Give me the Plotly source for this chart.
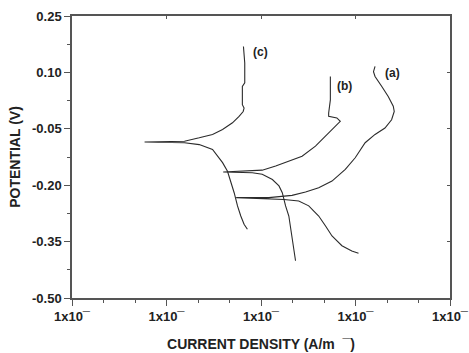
import math
import plotly.graph_objects as go

# Potentiodynamic polarization curves: current density (A/m^2) vs potential (V)
# Each curve runs from the cathodic end, through the corrosion potential, up the anodic branch.
curve_a_current = [1.076, 0.914, 0.718, 0.564, 0.480, 0.408, 0.320, 0.251, 0.175, 0.121, 0.0546,
                   0.121, 0.168, 0.213, 0.296, 0.408, 0.564, 0.780, 0.993, 1.265, 1.61, 2.05,
                   2.41, 2.57, 2.51, 2.22, 1.89, 1.61, 1.55, 1.61]
curve_a_potential = [-0.381, -0.375, -0.361, -0.335, -0.308, -0.282, -0.255, -0.242, -0.238, -0.236, -0.233,
                     -0.233, -0.229, -0.227, -0.218, -0.207, -0.189, -0.158, -0.127, -0.087, -0.065, -0.048,
                     -0.026, -0.004, 0.010, 0.036, 0.063, 0.089, 0.102, 0.116]

curve_b_current = [0.232, 0.222, 0.206, 0.197, 0.182, 0.175, 0.168, 0.155, 0.132, 0.103, 0.0809, 0.0398,
                   0.0586, 0.103, 0.143, 0.197, 0.272, 0.377, 0.520, 0.631, 0.690, 0.635, 0.520, 0.520,
                   0.542, 0.542]
curve_b_potential = [-0.401, -0.370, -0.326, -0.282, -0.255, -0.238, -0.220, -0.202, -0.185, -0.171, -0.167, -0.165,
                     -0.163, -0.160, -0.149, -0.136, -0.123, -0.096, -0.061, -0.040, -0.030, -0.021, -0.017, -0.008,
                     0.027, 0.089]

curve_c_current = [0.0718, 0.0662, 0.0611, 0.0564, 0.0520, 0.0480, 0.0442, 0.0392, 0.0307, 0.0222, 0.0155,
                   0.00586, 0.0155, 0.0222, 0.0307, 0.0392, 0.0499, 0.0586, 0.0648, 0.0662, 0.0635, 0.0635,
                   0.0673, 0.0673, 0.0652]
curve_c_potential = [-0.317, -0.304, -0.282, -0.255, -0.220, -0.193, -0.163, -0.140, -0.105, -0.092, -0.087,
                     -0.085, -0.083, -0.074, -0.065, -0.052, -0.034, -0.017, -0.004, 0.005, 0.014, 0.063,
                     0.072, 0.125, 0.169]

curve_labels = ["(a)", "(b)", "(c)"]
label_current = [1.97, 0.611, 0.0785]
label_potential = [0.099, 0.063, 0.155]

x_decades = [1e-3, 1e-2, 1e-1, 1e0, 1e1]
x_tick_text = ["1x10\u00af"] * 5
y_ticks = [0.25, 0.10, -0.05, -0.20, -0.35, -0.50]
y_tick_text = ["0.25", "0.10", "-0.05", "-0.20", "-0.35", "-0.50"]
y_minor = [0.175, 0.025, -0.125, -0.275, -0.425]

FONT = "Liberation Sans, Arial, sans-serif"
LINE = "#2b2b2b"
AXIS = "#555555"
TEXT = "#222222"

fig = go.Figure()
for cur, pot in [(curve_a_current, curve_a_potential),
                 (curve_b_current, curve_b_potential),
                 (curve_c_current, curve_c_potential)]:
    fig.add_trace(go.Scatter(x=cur, y=pot, mode="lines",
                             line=dict(color=LINE, width=1.1), showlegend=False,
                             hoverinfo="skip"))

# annotation x positions on a log axis are given as log10 of the value
for txt, xv, yv in zip(curve_labels, label_current, label_potential):
    fig.add_annotation(x=math.log10(xv), y=yv, xref="x", yref="y", text=txt,
                       showarrow=False, xanchor="left", yanchor="middle",
                       font=dict(family=FONT, size=12, color=TEXT, weight="bold"))

# minor ticks at thirds of each decade
x_minor = []
for d in x_decades[:-1]:
    x_minor += [d * 10 ** (1 / 3), d * 10 ** (2 / 3)]

xrange = [-3, 1]
yrange = [-0.50, 0.25]

common_x = dict(type="log", range=xrange, showgrid=False, zeroline=False, automargin=False)
common_y = dict(range=yrange, showgrid=False, zeroline=False, automargin=False)
tick_font = dict(family=FONT, size=13, color=TEXT, weight="bold")
title_font = dict(family=FONT, size=14, color=TEXT, weight="bold")

fig.update_layout(
    width=469, height=353,
    margin=dict(l=72, r=19, t=16, b=55),
    paper_bgcolor="white", plot_bgcolor="white",
    font=dict(family=FONT, color=TEXT),
    xaxis=dict(**common_x,
               tickmode="array", tickvals=x_decades, ticktext=x_tick_text,
               ticks="outside", ticklen=6, tickwidth=1.2, tickcolor=AXIS,
               showline=True, linecolor=AXIS, linewidth=1.5,
               tickfont=tick_font,
               minor=dict(tickvals=x_minor, ticks="outside", ticklen=3,
                          tickcolor=AXIS, tickwidth=1),
               title=dict(text="CURRENT DENSITY (A/m  \u00af)",
                          font=title_font, standoff=16)),
    yaxis=dict(**common_y,
               tickmode="array", tickvals=y_ticks, ticktext=y_tick_text,
               ticks="outside", ticklen=6, tickwidth=1.2, tickcolor=AXIS,
               showline=True, linecolor=AXIS, linewidth=1.5,
               tickfont=tick_font,
               minor=dict(tickvals=y_minor, ticks="outside", ticklen=3,
                          tickcolor=AXIS, tickwidth=1),
               title=dict(text="POTENTIAL (V)", font=title_font, standoff=8)),
    # top and right frame with inward ticks
    xaxis2=dict(**common_x, overlaying="x", side="top", anchor="y",
                tickmode="array", tickvals=x_decades, showticklabels=False,
                ticks="inside", ticklen=3, tickcolor=AXIS,
                showline=True, linecolor=AXIS, linewidth=1.5),
    yaxis2=dict(**common_y, overlaying="y", side="right", anchor="x",
                tickmode="array", tickvals=y_ticks, showticklabels=False,
                ticks="inside", ticklen=3, tickcolor=AXIS,
                showline=True, linecolor=AXIS, linewidth=1.5),
)

# invisible trace so the top/right axes are drawn
fig.add_trace(go.Scatter(x=[x_decades[0]], y=[y_ticks[0]], xaxis="x2", yaxis="y2",
                         mode="markers", marker=dict(opacity=0), showlegend=False,
                         hoverinfo="skip"))

fig.write_html("out.html")
